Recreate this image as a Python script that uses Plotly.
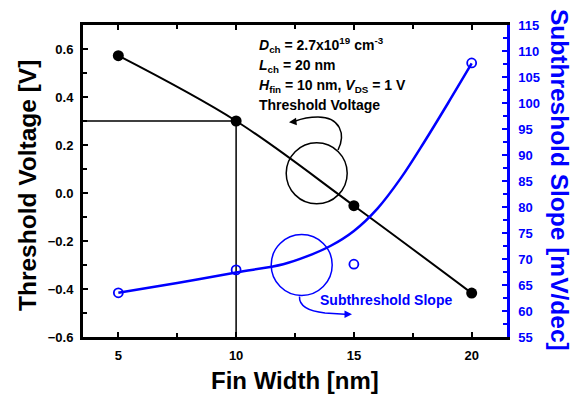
import plotly.graph_objects as go

# ---- data ----
fin_width = [5, 10, 15, 20]
vth = [0.572, 0.300, -0.053, -0.417]          # Threshold voltage [V]
ss = [63.5, 67.9, 69.0, 107.7]                # Subthreshold slope [mV/dec]
fit_x = [5, 7.5, 10, 12, 13, 14, 15, 16, 17, 18, 19, 20]
fit_ss = [63.5, 65.4, 67.4, 69.0, 70.5, 72.5, 75.4, 79.7, 85.6, 92.6, 100.0, 107.6]

x_ticks = [5, 10, 15, 20]
y_ticks = [-0.6, -0.4, -0.2, 0.0, 0.2, 0.4, 0.6]
y2_ticks = list(range(55, 116, 5))

FONT = "Liberation Sans, Arial, sans-serif"
BLUE = "#0000ff"

# plot-area pixel geometry (for decorations)
L, R, T, B = 83, 507, 25, 337
W, H = 579, 400

def px(xp, yp):
    return (xp - L) / (R - L), (B - yp) / (B - T)

fig = go.Figure()

# reference lines at the 10 nm point
fig.add_trace(go.Scatter(x=[3.5, fin_width[1], fin_width[1]], y=[vth[1], vth[1], -0.6],
                         mode="lines", line=dict(color="black", width=1.5),
                         hoverinfo="skip", showlegend=False))

fig.add_trace(go.Scatter(x=fin_width, y=vth, mode="lines+markers",
                         line=dict(color="black", width=2, shape="spline"),
                         marker=dict(color="black", size=11),
                         showlegend=False))

fig.add_trace(go.Scatter(x=fit_x, y=fit_ss, mode="lines", yaxis="y2",
                         line=dict(color=BLUE, width=2.5, shape="spline", smoothing=1.0),
                         showlegend=False))
fig.add_trace(go.Scatter(x=fin_width, y=ss, mode="markers", yaxis="y2",
                         marker=dict(symbol="circle-open", color=BLUE, size=9,
                                     line=dict(width=1.8, color=BLUE)),
                         showlegend=False))

shapes = []
# circles
for (cx, cy, r, col) in [(316.7, 173.3, 30.5, "black"), (301.7, 265.0, 30.5, BLUE)]:
    x0, y0 = px(cx - r, cy + r)
    x1, y1 = px(cx + r, cy - r)
    shapes.append(dict(type="circle", xref="paper", yref="paper", x0=x0, y0=y0, x1=x1, y1=y1,
                       line=dict(color=col, width=1.5)))

def path(points, cmd):
    s = ""
    for c, pts in zip(cmd, points):
        s += c + " " + " ".join("%.5f,%.5f" % px(*p) for p in pts) + " "
    return s

# black curved arrow
shapes.append(dict(type="path", xref="paper", yref="paper",
                   path=path([[(338, 150)], [(346, 134), (340, 117), (318, 117)], [(305, 117), (298, 120), (294, 121.5)]],
                             ["M", "C", "C"]),
                   line=dict(color="black", width=1.5)))
# blue curved arrow
shapes.append(dict(type="path", xref="paper", yref="paper",
                   path=path([[(299.5, 296.5)], [(299, 306), (307, 311), (325, 313)], [(345, 314.2)]],
                             ["M", "C", "L"]),
                   line=dict(color=BLUE, width=1.5)))

annotations = []
# arrow heads
hx, hy = px(289, 122.3)
annotations.append(dict(x=hx, y=hy, xref="paper", yref="paper", showarrow=True, text="",
                        ax=7, ay=-0.8, arrowhead=2, arrowsize=1, arrowwidth=1.5, arrowcolor="black"))
hx, hy = px(352, 314.3)
annotations.append(dict(x=hx, y=hy, xref="paper", yref="paper", showarrow=True, text="",
                        ax=-8, ay=0, arrowhead=2, arrowsize=1, arrowwidth=1.5, arrowcolor=BLUE))

# text block
lines = [
    ("<b><i>D</i><sub>ch</sub> = 2.7x10<sup>19</sup> cm<sup>-3</sup></b>", 45),
    ("<b><i>L</i><sub>ch</sub> = 20 nm</b>", 66),
    ("<b><i>H</i><sub>fin</sub> = 10 nm, <i>V</i><sub>DS</sub> = 1 V</b>", 86),
    ("<b>Threshold Voltage</b>", 105),
]
for txt, yp in lines:
    ax_, ay_ = px(257, yp)
    annotations.append(dict(x=ax_, y=ay_, xref="paper", yref="paper", text=txt, showarrow=False,
                            xanchor="left", yanchor="middle",
                            font=dict(family=FONT, size=14, color="black")))
ax_, ay_ = px(318, 300)
annotations.append(dict(x=ax_, y=ay_, xref="paper", yref="paper", text="<b>Subthreshold Slope</b>",
                        showarrow=False, xanchor="left", yanchor="middle",
                        font=dict(family=FONT, size=14, color=BLUE)))

# axis titles
tx, ty = px(28, 186)
annotations.append(dict(x=tx, y=ty, xref="paper", yref="paper", text="<b>Threshold Voltage [V]</b>",
                        textangle=-90, showarrow=False, xanchor="center", yanchor="middle",
                        font=dict(family=FONT, size=24.5, color="black")))
tx, ty = px(560, 180)
annotations.append(dict(x=tx, y=ty, xref="paper", yref="paper", text="<b>Subthreshold Slope [mV/dec]</b>",
                        textangle=90, showarrow=False, xanchor="center", yanchor="middle",
                        font=dict(family=FONT, size=24.5, color=BLUE)))
tx, ty = px(295, 380)
annotations.append(dict(x=tx, y=ty, xref="paper", yref="paper", text="<b>Fin Width [nm]</b>",
                        showarrow=False, xanchor="center", yanchor="middle",
                        font=dict(family=FONT, size=24, color="black")))

tickfont = dict(family=FONT, size=13, color="black", weight="bold")

fig.update_layout(
    width=W, height=H,
    margin=dict(l=L, r=W - R, t=T, b=H - B, pad=0),
    paper_bgcolor="white", plot_bgcolor="white",
    showlegend=False,
    xaxis=dict(range=[3.5, 21.5], tickvals=x_ticks, ticks="inside", ticklen=5, tickwidth=2,
               tickcolor="black", linecolor="black", linewidth=3, mirror="ticks",
               showgrid=False, zeroline=False, tickfont=tickfont, ticklabelstandoff=4,
               minor=dict(dtick=2.5, tick0=0, ticks="inside", ticklen=4, tickwidth=1.5,
                          tickcolor="black", showgrid=False)),
    yaxis=dict(range=[-0.6, 0.7], tickvals=y_ticks, tickformat=".1f", ticks="inside", ticklen=5,
               tickwidth=2, tickcolor="black", linecolor="black", linewidth=3, mirror=False,
               showgrid=False, zeroline=False, tickfont=tickfont, ticklabelstandoff=4,
               minor=dict(dtick=0.1, tick0=0, ticks="inside", ticklen=4, tickwidth=1.5,
                          tickcolor="black", showgrid=False)),
    yaxis2=dict(range=[55, 115], tickvals=y2_ticks, overlaying="y", side="right",
                ticks="inside", ticklen=5, tickwidth=2, tickcolor=BLUE, linecolor=BLUE,
                linewidth=2.5, showgrid=False, zeroline=False, ticklabelstandoff=6,
                tickfont=dict(family=FONT, size=13, color=BLUE, weight="bold"),
                minor=dict(dtick=2.5, tick0=0, ticks="inside", ticklen=4, tickwidth=1.5,
                           tickcolor=BLUE, showgrid=False)),
    shapes=shapes,
    annotations=annotations,
)

fig.write_html("out.html")
